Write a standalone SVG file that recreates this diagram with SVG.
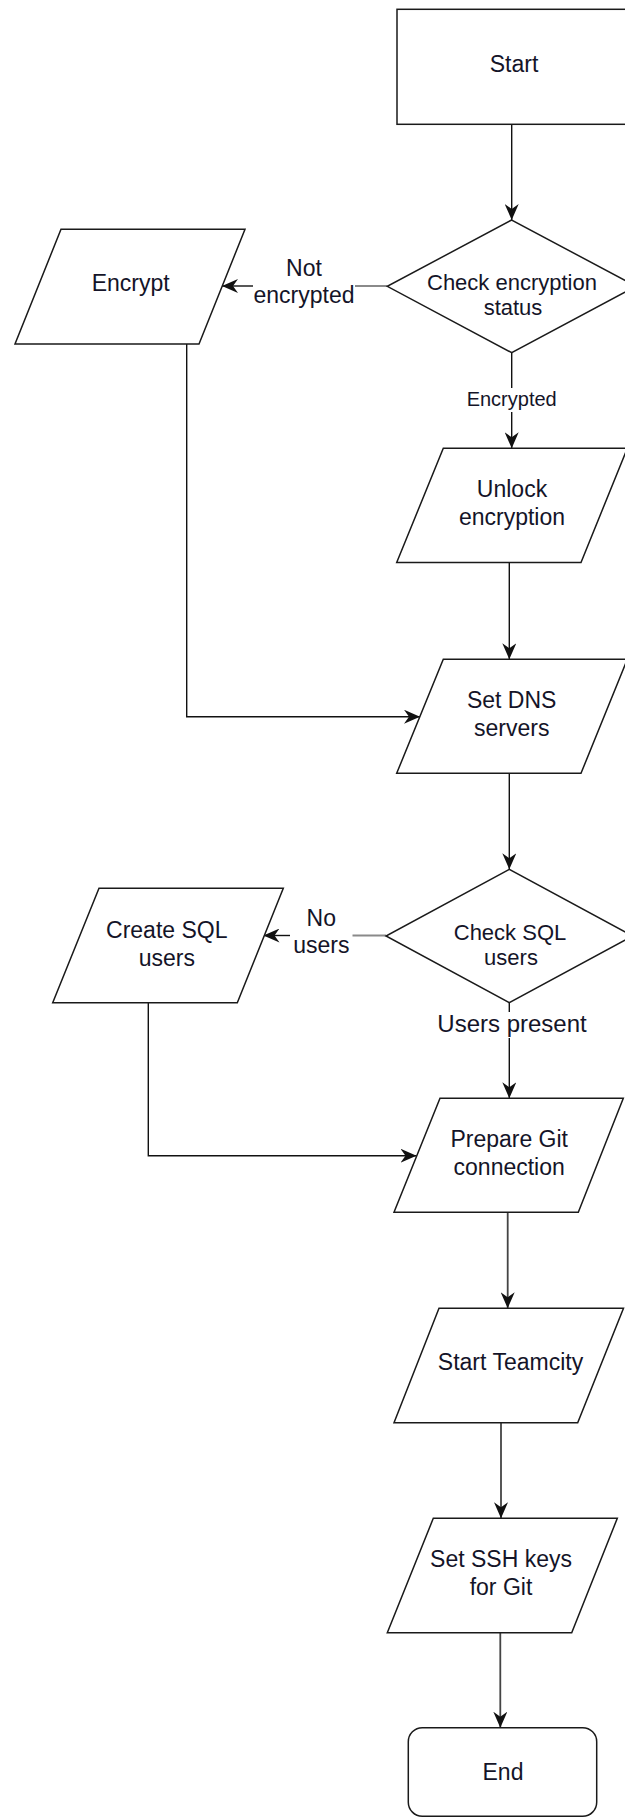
<svg xmlns="http://www.w3.org/2000/svg" width="625" height="1818" viewBox="0 0 625 1818">
  <style>
    .shape { fill: #ffffff; stroke: #1a1a1a; stroke-width: 1.5; }
    .lbl { font-family: "Liberation Sans", Arial, sans-serif; font-size: 23px; fill: #141428; text-anchor: middle; }
    .dlbl { font-family: "Liberation Sans", Arial, sans-serif; font-size: 22px; fill: #141428; text-anchor: middle; }
    .edge-lbl { font-family: "Liberation Sans", Arial, sans-serif; font-size: 23px; fill: #141428; text-anchor: middle; }
    .edge { fill: none; stroke: #111111; stroke-width: 1.4; }
    .edge-soft { fill: none; stroke: #444444; stroke-width: 1.8; }
    .stub { fill: none; stroke: #8a8a8a; stroke-width: 2.2; }
  </style>
  <defs>
    <marker id="arrow" markerUnits="userSpaceOnUse" viewBox="0 0 16 14" refX="16" refY="7" markerWidth="16" markerHeight="14" orient="auto">
      <path d="M0,0 L16,7 L0,14 L5,7 Z" fill="#111111"/>
    </marker>
  </defs>
  <rect width="625" height="1818" fill="#ffffff"/>

  <!-- connectors -->
  <g id="connectors">
    <line class="edge" x1="511.7" y1="124.3" x2="511.7" y2="220" marker-end="url(#arrow)"/>
    <line class="stub" x1="387.3" y1="286" x2="355" y2="286"/>
    <line class="edge" x1="253" y1="286" x2="222" y2="286" marker-end="url(#arrow)"/>
    <line class="edge" x1="511.7" y1="352.7" x2="511.7" y2="388"/>
    <line class="edge" x1="511.7" y1="412" x2="511.7" y2="448.3" marker-end="url(#arrow)"/>
    <line class="edge" x1="509.3" y1="562.5" x2="509.3" y2="659.3" marker-end="url(#arrow)"/>
    <polyline class="edge" points="186.7,344 186.7,716.7 420,716.7" marker-end="url(#arrow)"/>
    <line class="edge" x1="509.3" y1="773.3" x2="509.3" y2="869.3" marker-end="url(#arrow)"/>
    <line class="stub" x1="386" y1="935.5" x2="352.5" y2="935.5"/>
    <line class="edge" x1="290" y1="935.5" x2="263.5" y2="935.5" marker-end="url(#arrow)"/>
    <line class="edge" x1="509.3" y1="1002.7" x2="509.3" y2="1012"/>
    <line class="edge" x1="509.3" y1="1038" x2="509.3" y2="1098.3" marker-end="url(#arrow)"/>
    <polyline class="edge" points="148.3,1002.7 148.3,1155.7 416.5,1155.7" marker-end="url(#arrow)"/>
    <line class="edge-soft" x1="507.7" y1="1212.3" x2="507.7" y2="1308.3" marker-end="url(#arrow)"/>
    <line class="edge-soft" x1="501" y1="1422.7" x2="501" y2="1518.3" marker-end="url(#arrow)"/>
    <line class="edge-soft" x1="500.3" y1="1632.7" x2="500.3" y2="1727.7" marker-end="url(#arrow)"/>
    <text class="edge-lbl" x="304" y="276">Not</text>
    <text class="edge-lbl" x="304" y="303.3">encrypted</text>
    <text class="edge-lbl" x="511.7" y="406" style="font-size:20px">Encrypted</text>
    <text class="edge-lbl" x="321.3" y="926">No</text>
    <text class="edge-lbl" x="321.3" y="953.3">users</text>
    <text class="edge-lbl" x="512" y="1031.7" style="font-size:24px">Users present</text>
  </g>

  <!-- nodes -->
  <g id="start">
    <rect class="shape" x="397" y="9.3" width="234" height="115"/>
    <text class="lbl" x="514" y="71.7">Start</text>
  </g>
  <g id="check-encryption">
    <polygon class="shape" points="511.7,220 387.3,286.3 511.7,352.7 636,286.3"/>
    <text class="dlbl" x="512" y="290">Check encryption</text>
    <text class="dlbl" x="513" y="314.5">status</text>
  </g>
  <g id="encrypt">
    <polygon class="shape" points="61,229.3 245,229.3 199,344 15,344"/>
    <text class="lbl" x="130.7" y="290.7">Encrypt</text>
  </g>
  <g id="unlock-encryption">
    <polygon class="shape" points="443.3,448.3 627.3,448.3 581,562.5 396.7,562.5"/>
    <text class="lbl" x="512" y="497.3">Unlock</text>
    <text class="lbl" x="512" y="525">encryption</text>
  </g>
  <g id="set-dns">
    <polygon class="shape" points="443.3,659.3 627.3,659.3 581,773.3 396.7,773.3"/>
    <text class="lbl" x="511.7" y="708">Set DNS</text>
    <text class="lbl" x="511.7" y="736">servers</text>
  </g>
  <g id="check-sql">
    <polygon class="shape" points="509.3,869.3 386,936 509.3,1002.7 632.6,936"/>
    <text class="dlbl" x="510" y="939.5">Check SQL</text>
    <text class="dlbl" x="511" y="964.5">users</text>
  </g>
  <g id="create-sql">
    <polygon class="shape" points="99,888.3 283.3,888.3 237.3,1002.7 52.7,1002.7"/>
    <text class="lbl" x="166.8" y="938">Create SQL</text>
    <text class="lbl" x="166.8" y="966">users</text>
  </g>
  <g id="prepare-git">
    <polygon class="shape" points="440,1098.3 623.3,1098.3 578.3,1212.3 394,1212.3"/>
    <text class="lbl" x="509.2" y="1146.7">Prepare Git</text>
    <text class="lbl" x="509.2" y="1175">connection</text>
  </g>
  <g id="start-teamcity">
    <polygon class="shape" points="439,1308.3 623.5,1308.3 577.7,1422.7 394,1422.7"/>
    <text class="lbl" x="510.5" y="1370">Start Teamcity</text>
  </g>
  <g id="set-ssh">
    <polygon class="shape" points="433.3,1518.3 617.3,1518.3 571.7,1632.7 387.3,1632.7"/>
    <text class="lbl" x="501" y="1566.7">Set SSH keys</text>
    <text class="lbl" x="501" y="1595">for Git</text>
  </g>
  <g id="end">
    <rect class="shape" x="408.3" y="1727.7" width="188.4" height="88.5" rx="14" ry="14"/>
    <text class="lbl" x="503" y="1780">End</text>
  </g>
</svg>
